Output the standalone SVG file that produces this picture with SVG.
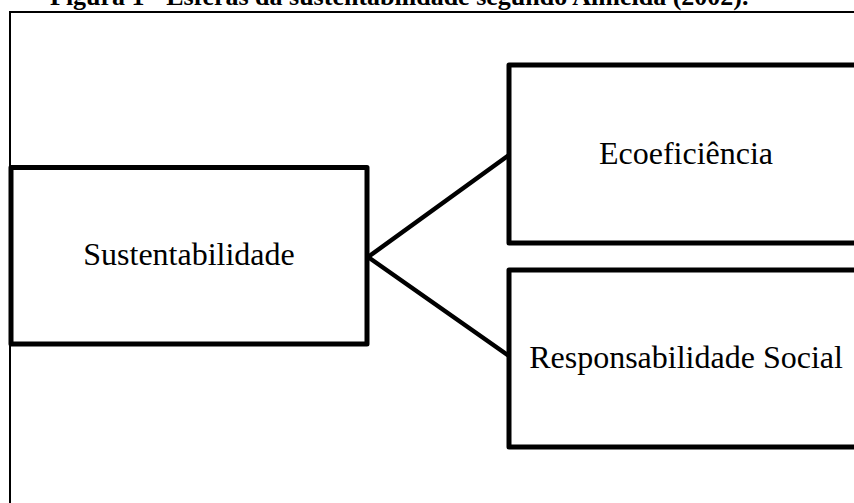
<svg xmlns="http://www.w3.org/2000/svg" width="854" height="503" viewBox="0 0 854 503">
  <style>
    .frame { fill: none; stroke: #000; stroke-width: 2; }
    .box { fill: #fff; stroke: #000; stroke-width: 5; stroke-linejoin: round; }
    .conn { stroke: #000; stroke-width: 4.5; fill: none; stroke-linecap: round; }
    .lbl { font-family: "Liberation Serif", "Times New Roman", serif; font-size: 32px; fill: #000; text-anchor: middle; }
    .title { font-family: "Liberation Serif", "Times New Roman", serif; font-size: 26px; font-weight: bold; fill: #000; }
  </style>
  <rect width="854" height="503" fill="#fff"/>
  <text class="title" x="50" y="5">Figura 1 - Esferas da sustentabilidade segundo Almeida (2002).</text>
  <path class="frame" d="M10,520 V12 H870"/>
  <g id="connectors">
    <line class="conn" x1="368" y1="257" x2="509" y2="155"/>
    <line class="conn" x1="368" y1="257" x2="509" y2="356"/>
  </g>
  <g id="node-sustentabilidade">
    <rect class="box" x="11" y="167.5" width="356" height="176.5"/>
    <text class="lbl" x="189" y="265">Sustentabilidade</text>
  </g>
  <g id="node-ecoeficiencia">
    <rect class="box" x="509" y="65" width="360" height="178"/>
    <text class="lbl" x="686" y="164">Ecoeficiência</text>
  </g>
  <g id="node-responsabilidade">
    <rect class="box" x="509" y="270" width="360" height="177"/>
    <text class="lbl" x="686" y="368">Responsabilidade Social</text>
  </g>
</svg>
